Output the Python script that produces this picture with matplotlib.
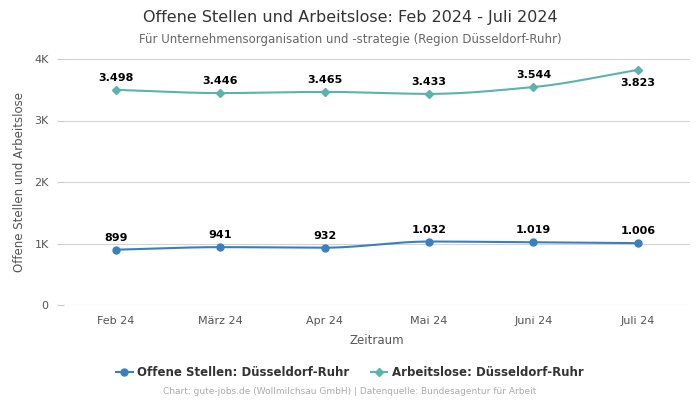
import numpy as np
import matplotlib
matplotlib.use("Agg")
import matplotlib.pyplot as plt
from matplotlib.lines import Line2D

categories = ["Feb 24", "März 24", "Apr 24", "Mai 24", "Juni 24", "Juli 24"]
offene = [899, 941, 932, 1032, 1019, 1006]
arbeitslose = [3498, 3446, 3465, 3433, 3544, 3823]
offene_labels = ["899", "941", "932", "1.032", "1.019", "1.006"]
arbeitslose_labels = ["3.498", "3.446", "3.465", "3.433", "3.544", "3.823"]
yticks = [0, 1000, 2000, 3000, 4000]
ytick_labels = ["0", "1K", "2K", "3K", "4K"]

c_blue = "#3a7fbf"
c_teal = "#5ab4ac"


def monotone(x, y, n=40):
    x = np.asarray(x, float); y = np.asarray(y, float)
    h = np.diff(x); d = np.diff(y) / h
    m = np.zeros_like(y)
    m[0] = d[0]; m[-1] = d[-1]
    for i in range(1, len(y) - 1):
        if d[i - 1] * d[i] <= 0:
            m[i] = 0
        else:
            w1 = 2 * h[i] + h[i - 1]; w2 = h[i] + 2 * h[i - 1]
            m[i] = (w1 + w2) / (w1 / d[i - 1] + w2 / d[i])
    xs, ys = [], []
    for i in range(len(x) - 1):
        t = np.linspace(0, 1, n, endpoint=(i == len(x) - 2))
        h00 = 2 * t**3 - 3 * t**2 + 1; h10 = t**3 - 2 * t**2 + t
        h01 = -2 * t**3 + 3 * t**2; h11 = t**3 - t**2
        xs.append(x[i] + t * h[i])
        ys.append(h00 * y[i] + h10 * h[i] * m[i] + h01 * y[i + 1] + h11 * h[i] * m[i + 1])
    return np.concatenate(xs), np.concatenate(ys)


fig = plt.figure(figsize=(7, 4), dpi=100)
ax = fig.add_axes([0.0914, 0.2375, 0.8943, 0.615])
x = np.arange(len(categories))

sx, sy = monotone(x, offene)
ax.plot(sx, sy, color=c_blue, lw=1.5, zorder=3)
ax.plot(x, offene, "o", color=c_blue, ms=5, zorder=4)
sx, sy = monotone(x, arbeitslose)
ax.plot(sx, sy, color=c_teal, lw=1.5, zorder=3)
ax.plot(x, arbeitslose, "D", color=c_teal, ms=4, zorder=4)

for i in range(len(x)):
    ax.annotate(offene_labels[i], (x[i], offene[i]), xytext=(0, 5), textcoords="offset points",
                ha="center", va="bottom", fontsize=8, fontweight="bold", color="black")
    if i == len(x) - 1:
        ax.annotate(arbeitslose_labels[i], (x[i], arbeitslose[i]), xytext=(0, -6), textcoords="offset points",
                    ha="center", va="top", fontsize=8, fontweight="bold", color="black")
    else:
        ax.annotate(arbeitslose_labels[i], (x[i], arbeitslose[i]), xytext=(0, 5), textcoords="offset points",
                    ha="center", va="bottom", fontsize=8, fontweight="bold", color="black")

ax.set_xlim(-0.5, len(x) - 0.5)
ax.set_ylim(0, 4000)
ax.set_xticks(x)
ax.set_xticklabels(categories)
ax.set_yticks(yticks)
ax.set_yticklabels(ytick_labels)
ax.tick_params(axis="x", length=0, labelsize=8, colors="#555555", pad=8)
ax.tick_params(axis="y", length=5, width=0.8, color="#cccccc", labelsize=8, labelcolor="#555555", pad=6)
for s in ax.spines.values():
    s.set_visible(False)
ax.grid(axis="y", color="#d3d3d3", lw=0.8)
ax.set_axisbelow(True)
ax.set_xlabel("Zeitraum", fontsize=8.5, color="#555555", labelpad=6)
ax.set_ylabel("Offene Stellen und Arbeitslose", fontsize=8.5, color="#555555", labelpad=6)

fig.text(0.5, 0.957, "Offene Stellen und Arbeitslose: Feb 2024 - Juli 2024", ha="center", va="center",
         fontsize=11.5, color="#333333")
fig.text(0.5, 0.902, "Für Unternehmensorganisation und -strategie (Region Düsseldorf-Ruhr)", ha="center",
         va="center", fontsize=8.5, color="#666666")

handles = [Line2D([0], [0], color=c_blue, marker="o", ms=5, lw=1.5),
           Line2D([0], [0], color=c_teal, marker="D", ms=4, lw=1.5)]
fig.legend(handles, ["Offene Stellen: Düsseldorf-Ruhr", "Arbeitslose: Düsseldorf-Ruhr"],
           loc="center", bbox_to_anchor=(0.5, 0.068), ncol=2, frameon=False,
           prop={"weight": "bold", "size": 8.5}, labelcolor="#333333", handlelength=1.4,
           columnspacing=1.8, handletextpad=0.4)
fig.text(0.5, 0.02, "Chart: gute-jobs.de (Wollmilchsau GmbH) | Datenquelle: Bundesagentur für Arbeit",
         ha="center", va="center", fontsize=6.5, color="#aaaaaa")

fig.savefig("out.png", dpi=100)
